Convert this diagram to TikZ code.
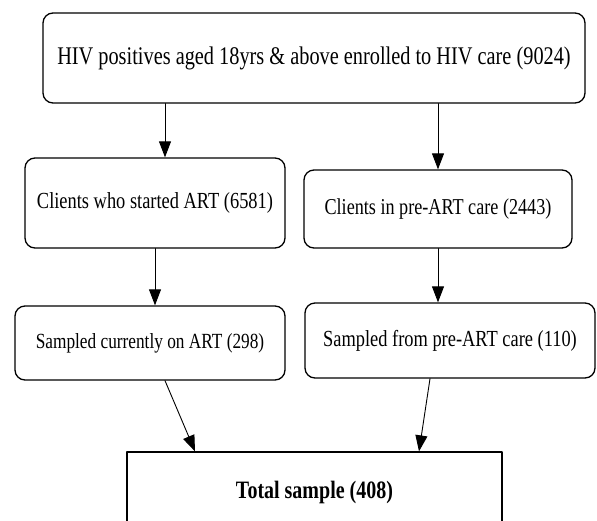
\documentclass[tikz,border=0pt]{standalone}
\usepackage{fontspec}
\setmainfont{Liberation Serif}[FakeStretch=0.8]
\usetikzlibrary{arrows.meta}
\begin{document}
\begin{tikzpicture}[x=1pt, y=-1pt, line cap=round, line join=round, >={Triangle[length=16pt,width=12pt]},
	box/.style={draw, line width=1.3pt, rounded corners=10pt, align=center, inner sep=0pt},
	arr/.style={->, line width=0.9pt}]
			\useasboundingbox (0,0) rectangle (597,520);
			\node[box, minimum width=542, minimum height=90, font=\fontsize{25.4}{29}\selectfont] (enrol) at (314,58) {HIV positives aged 18yrs \& above enrolled to HIV care (9024)};
			\node[box, minimum width=260, minimum height=90, font=\fontsize{23}{27}\selectfont] (art) at (155,203) {Clients who started ART (6581)};
			\node[box, minimum width=268, minimum height=78, font=\fontsize{22.7}{27}\selectfont] (preart) at (438,209) {Clients in pre-ART care (2443)};
			\node[box, minimum width=270, minimum height=74, font=\fontsize{21.6}{25}\selectfont] (sampart) at (150,343) {Sampled currently on ART (298)};
			\node[box, minimum width=290, minimum height=75, font=\fontsize{23}{27}\selectfont] (samppre) at (450,340.5) {Sampled from pre-ART care (110)};
			\node[box, rounded corners=0pt, minimum width=375, minimum height=80, font=\fontsize{25}{29}\selectfont\bfseries] (total) at (314.5,492) {Total sample (408)};
			\draw[arr] ([xshift=10]art.north |- enrol.south) -- ([xshift=10]art.north);
			\draw[arr] (preart.north |- enrol.south) -- (preart.north);
			\draw[arr] (art.south) -- (art.south |- sampart.north);
			\draw[arr] (preart.south) -- (preart.south |- samppre.north);
			\draw[arr] ([xshift=15]sampart.south) -- ([xshift=-119.5]total.north);
			\draw[arr] ([xshift=-20]samppre.south) -- ([xshift=104.5]total.north);
			\end{tikzpicture}
\end{document}
